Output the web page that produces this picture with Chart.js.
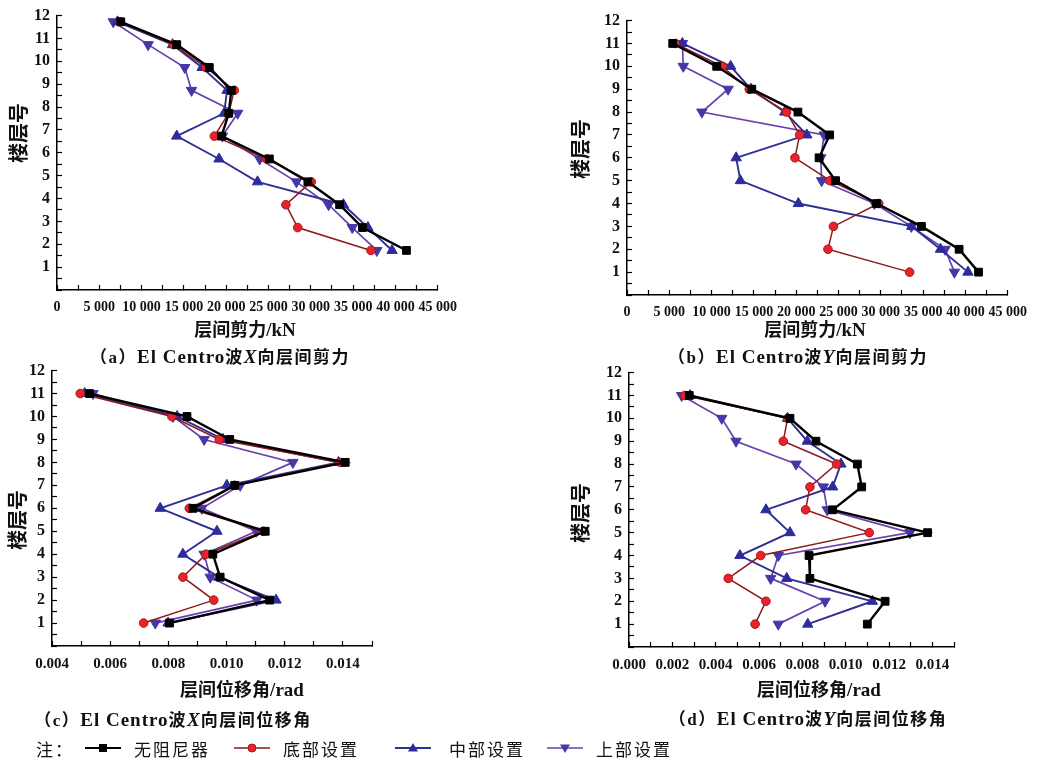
<!DOCTYPE html>
<html>
<head>
<meta charset="utf-8">
<script src="https://cdn.jsdelivr.net/npm/chart.js@4.4.0/dist/chart.umd.min.js"></script>
<style>
  body { margin: 0; background: #fff; width: 1041px; height: 761px; overflow: hidden; position: relative; }
  canvas { position: absolute; }
  .txt { position: absolute; white-space: nowrap; color: #111; font-family: "Liberation Serif", "Noto Sans CJK SC", serif; }
  .ytitle { font-family: "Noto Sans CJK SC", sans-serif; font-weight: bold; font-size: 20px; transform: translate(-50%, -50%) rotate(-90deg); }
  .xtitle { font-family: "Noto Sans CJK SC", sans-serif; font-weight: bold; font-size: 18px; transform: translate(-50%, -50%); }
  .xtitle span { font-family: "Liberation Serif", serif; font-size: 19px; }
  .cap { font-size: 17px; font-weight: bold; letter-spacing: 1.5px; transform: translate(-50%, -50%); }
  .cap .lat { font-family: "Liberation Serif", serif; font-size: 19px; letter-spacing: 1px; }
  .leg { font-family: "Noto Sans CJK SC", sans-serif; font-size: 17px; letter-spacing: 2px; transform: translateY(-50%); }
  svg { position: absolute; }
</style>
</head>
<body>
<canvas id="chartA"></canvas>
<canvas id="chartB"></canvas>
<canvas id="chartC"></canvas>
<canvas id="chartD"></canvas>

<div class="txt ytitle" style="left:17px; top:133px;">楼层号</div>
<div class="txt ytitle" style="left:579px; top:149px;">楼层号</div>
<div class="txt ytitle" style="left:16px; top:520px;">楼层号</div>
<div class="txt ytitle" style="left:579px; top:513px;">楼层号</div>

<div class="txt xtitle" style="left:245px; top:328px;">层间剪力<span>/kN</span></div>
<div class="txt xtitle" style="left:815px; top:328px;">层间剪力<span>/kN</span></div>
<div class="txt xtitle" style="left:242px; top:688px;">层间位移角<span>/rad</span></div>
<div class="txt xtitle" style="left:819px; top:688px;">层间位移角<span>/rad</span></div>

<div class="txt cap" style="left:220px; top:355px;">（a）<span class="lat">El Centro</span>波<i class="lat">X</i>向层间剪力</div>
<div class="txt cap" style="left:798px; top:355px;">（b）<span class="lat">El Centro</span>波<i class="lat">Y</i>向层间剪力</div>
<div class="txt cap" style="left:173px; top:718px;">（c）<span class="lat">El Centro</span>波<i class="lat">X</i>向层间位移角</div>
<div class="txt cap" style="left:808px; top:717px;">（d）<span class="lat">El Centro</span>波<i class="lat">Y</i>向层间位移角</div>

<div class="txt leg" style="left:36px; top:748px;">注：</div>
<div id="legend"></div>

<script>
// 楼层号
const floors = [11, 10, 9, 8, 7, 6, 5, 4, 3, 2, 1];
const floorsA = [11.73, 10.73, 9.73, 8.73, 7.73, 6.73, 5.73, 4.73, 3.73, 2.73, 1.73];

const seriesNames = ["无阻尼器", "底部设置", "中部设置", "上部设置"];

// (a) X向层间剪力 kN
const shearXNone   = [7540, 14150, 18000, 20600, 20300, 19450, 25100, 29650, 33400, 36100, 41300];
const shearXBottom = [7460, 13770, 17600, 20950, 20300, 18600, 24800, 30050, 27050, 28450, 37100];
const shearXMiddle = [7150, 13650, 17150, 20100, 19750, 14150, 19150, 23700, 33850, 36750, 39600];
const shearXTop    = [6650, 10770, 15100, 15900, 21350, 19550, 23950, 28300, 32100, 34900, 37800];

// (b) Y向层间剪力 kN
const shearYNone   = [5400, 10600, 14750, 20200, 23950, 22700, 24650, 29500, 34800, 39250, 41550];
const shearYBottom = [5700, 11250, 14450, 18850, 20400, 19850, 24000, 29750, 24400, 23750, 33400];
const shearYMiddle = [6550, 12250, 14650, 18650, 21250, 12900, 13400, 20250, 33650, 37050, 40300];
const shearYTop    = [6550, 6650, 11950, 8850, 23300, 22900, 23000, 29250, 33600, 37600, 38700];

// (c) X向层间位移角 rad
const driftXNone   = [0.00529, 0.00864, 0.01011, 0.01408, 0.01028, 0.00885, 0.01133, 0.00953, 0.00978, 0.01148, 0.00804];
const driftXBottom = [0.00497, 0.00812, 0.00975, 0.01391, 0.01028, 0.00872, 0.01127, 0.00929, 0.00850, 0.00956, 0.00715];
const driftXMiddle = [0.00512, 0.00830, 0.00988, 0.01385, 0.01001, 0.00772, 0.00967, 0.00850, 0.00973, 0.01170, 0.00799];
const driftXTop    = [0.00541, 0.00816, 0.00923, 0.01228, 0.01047, 0.00915, 0.01102, 0.00923, 0.00944, 0.01104, 0.00755];

// (d) Y向层间位移角 rad
const driftYNone   = [0.00278, 0.00743, 0.00863, 0.01054, 0.01074, 0.00940, 0.01378, 0.00831, 0.00835, 0.01182, 0.01100];
const driftYBottom = [0.00258, 0.00732, 0.00712, 0.00958, 0.00835, 0.00815, 0.01109, 0.00608, 0.00458, 0.00632, 0.00582];
const driftYMiddle = [0.00282, 0.00732, 0.00823, 0.00978, 0.00940, 0.00632, 0.00743, 0.00512, 0.00728, 0.01123, 0.00825];
const driftYTop    = [0.00243, 0.00428, 0.00494, 0.00771, 0.00897, 0.00915, 0.01297, 0.00689, 0.00654, 0.00905, 0.00689];

// 线型与标记
const styles = [
  { line: "#000000", fill: "#000000", edge: "#000000", shape: "rect", radius: 5.5, rot: 0, width: 2.4 },
  { line: "#8f1a1a", fill: "#e8232b", edge: "#a81818", shape: "circle", radius: 4.3, rot: 0, width: 1.5 },
  { line: "#2f2f94", fill: "#2c2c9a", edge: "#2c2c9a", shape: "triangle", radius: 6, rot: 0, width: 1.9 },
  { line: "#6a40b0", fill: "#4636a6", edge: "#4636a6", shape: "triangle", radius: 6, rot: 180, width: 1.7 }
];

function spaced(v) {
  if (v === 0) return "0";
  const s = String(Math.round(v));
  return s.slice(0, s.length - 3) + " " + s.slice(-3);
}

function makePanel(id, box, ys, seriesList, xScale) {
  const yw = 50, xh = 40, padTop = 20, padRight = 24;
  const canvas = document.getElementById(id);
  const w = yw + box.w + padRight, h = padTop + box.h + xh;
  canvas.width = w; canvas.height = h;
  canvas.style.left = (box.left - yw) + "px";
  canvas.style.top = (box.top - padTop) + "px";
  canvas.style.width = w + "px"; canvas.style.height = h + "px";

  const datasets = seriesList.map((vals, i) => {
    const st = styles[i];
    return {
      label: seriesNames[i],
      data: vals.map((v, k) => ({ x: v, y: ys[k] })),
      showLine: true,
      borderColor: st.line,
      borderWidth: st.width,
      pointStyle: st.shape,
      pointRotation: st.rot,
      pointRadius: st.radius,
      pointBackgroundColor: st.fill,
      pointBorderColor: st.edge,
      pointBorderWidth: 1,
      tension: 0
    };
  });

  new Chart(canvas.getContext("2d"), {
    type: "scatter",
    data: { datasets },
    options: {
      responsive: false,
      animation: false,
      layout: { padding: { top: padTop, right: padRight, left: 0, bottom: 0 } },
      plugins: { legend: { display: false }, tooltip: { enabled: false } },
      scales: {
        x: Object.assign({
          type: "linear",
          position: "bottom",
          grid: { drawOnChartArea: false, tickLength: -5, color: "#000", tickWidth: 1.2 },
          border: { color: "#000", width: 1.5 },
          afterFit: s => { s.height = xh; }
        }, xScale),
        y: {
          type: "linear",
          min: 0, max: 12,
          grid: { drawOnChartArea: false, tickLength: -5, color: "#000", tickWidth: 1.2 },
          border: { color: "#000", width: 1.5 },
          ticks: {
            stepSize: 0.5, autoSkip: false, padding: 12,
            color: "#111", font: { family: "Liberation Serif", size: 16, weight: "bold" },
            callback: v => (Number.isInteger(v) && v > 0 ? String(v) : "")
          },
          afterFit: s => { s.width = yw; }
        }
      }
    }
  });
}

const shearAxis = {
  min: 0, max: 45000,
  ticks: {
    stepSize: 2500, autoSkip: false, maxRotation: 0, padding: 14,
    color: "#111", font: { family: "Liberation Serif", size: 14, weight: "bold" },
    callback: v => (v % 5000 === 0 ? spaced(v) : "")
  }
};

function driftAxis(min) {
  return {
    min: min, max: 0.015,
    ticks: {
      stepSize: 0.001, autoSkip: false, maxRotation: 0, padding: 14,
      color: "#111", font: { family: "Liberation Serif", size: 15, weight: "bold" },
      callback: v => (Math.round(v * 1000) % 2 === 0 ? v.toFixed(3) : "")
    }
  };
}

makePanel("chartA", { left: 57, top: 14, w: 390, h: 276 }, floorsA,
  [shearXNone, shearXBottom, shearXMiddle, shearXTop], shearAxis);
makePanel("chartB", { left: 627, top: 19, w: 390, h: 276 }, floors,
  [shearYNone, shearYBottom, shearYMiddle, shearYTop], shearAxis);
makePanel("chartC", { left: 52, top: 369, w: 320, h: 277 }, floors,
  [driftXNone, driftXBottom, driftXMiddle, driftXTop], driftAxis(0.004));
makePanel("chartD", { left: 629, top: 371, w: 325, h: 276 }, floors,
  [driftYNone, driftYBottom, driftYMiddle, driftYTop], driftAxis(0));

// 图例
const legendPos = [
  { line: 85, text: 134 },
  { line: 234, text: 283 },
  { line: 395, text: 449 },
  { line: 547, text: 596 }
];
const legendEl = document.getElementById("legend");
legendPos.forEach((p, i) => {
  const st = styles[i];
  const cx = 18, cy = 8;
  let marker = "";
  if (st.shape === "rect") marker = `<rect x="${cx - 4}" y="${cy - 4}" width="8" height="8" fill="${st.fill}"/>`;
  else if (st.shape === "circle") marker = `<circle cx="${cx}" cy="${cy}" r="4" fill="${st.fill}" stroke="${st.edge}"/>`;
  else if (st.rot === 0) marker = `<polygon points="${cx},${cy - 5} ${cx + 5},${cy + 3.5} ${cx - 5},${cy + 3.5}" fill="${st.fill}"/>`;
  else marker = `<polygon points="${cx},${cy + 5} ${cx + 5},${cy - 3.5} ${cx - 5},${cy - 3.5}" fill="${st.fill}"/>`;
  legendEl.insertAdjacentHTML("beforeend",
    `<svg width="36" height="16" style="left:${p.line}px; top:740px;">
       <line x1="0" y1="${cy}" x2="36" y2="${cy}" stroke="${st.line}" stroke-width="${Math.min(st.width, 2)}"/>${marker}
     </svg>
     <div class="txt leg" style="left:${p.text}px; top:748px;">${seriesNames[i]}</div>`);
});
</script>
</body>
</html>
